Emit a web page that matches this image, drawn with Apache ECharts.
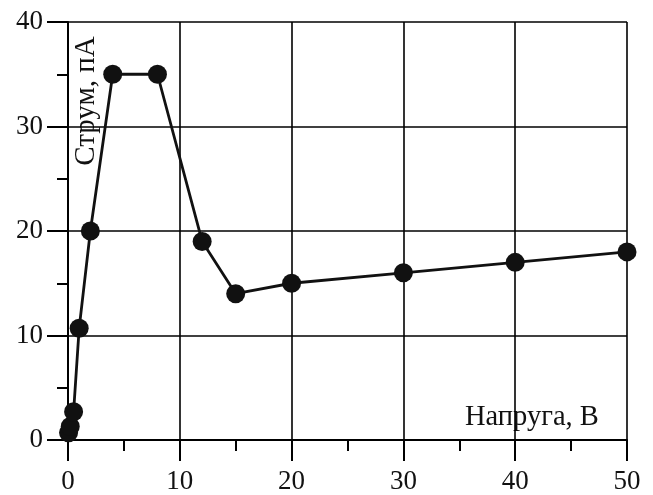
<!DOCTYPE html>
<html>
<head>
<meta charset="utf-8">
<script src="https://cdn.jsdelivr.net/npm/echarts@6/dist/echarts.min.js"></script>
<style>html,body{margin:0;padding:0;background:#fff}#c{width:653px;height:495px}</style>
</head>
<body>
<div id="c"></div>
<script>
const voltage = [0.05, 0.2, 0.5, 1, 2, 4, 8, 12, 15, 20, 30, 40, 50];
const current = [0.7, 1.3, 2.7, 10.7, 20, 35, 35, 19, 14, 15, 16, 17, 18];
const xTitle = 'Напруга, В';
const yTitle = 'Струм, пА';

const font = 'Liberation Serif';
const chart = echarts.init(document.getElementById('c'), null, {renderer: 'canvas'});
const axisCommon = {
  type: 'value',
  axisLine: {show: true, onZero: false, lineStyle: {color: '#000', width: 2}},
  axisTick: {show: true, inside: false, length: 21, lineStyle: {color: '#000', width: 2}},
  minorTick: {show: true, splitNumber: 2, length: 11, lineStyle: {color: '#000', width: 2}},
  splitLine: {show: true, lineStyle: {color: '#000', width: 1.6}},
  axisLabel: {color: '#111', fontFamily: font, fontSize: 27}
};
chart.setOption({
  animation: false,
  backgroundColor: '#fff',
  grid: {left: 68, right: 26, top: 22, bottom: 54, containLabel: false},
  xAxis: Object.assign({}, axisCommon, {
    min: 0, max: 50, interval: 10,
    axisLabel: Object.assign({}, axisCommon.axisLabel, {margin: 28})
  }),
  yAxis: Object.assign({}, axisCommon, {
    min: 0, max: 40, interval: 10,
    axisLabel: Object.assign({}, axisCommon.axisLabel, {margin: 25})
  }),
  graphic: [
    {type: 'text', x: 465, y: 418, style: {text: xTitle, fill: '#111', font: '28.5px "Liberation Serif"', textAlign: 'left', textVerticalAlign: 'middle'}},
    {type: 'text', x: 86, y: 101, rotation: Math.PI / 2, style: {text: yTitle, fill: '#111', font: '29px "Liberation Serif"', textAlign: 'center', textVerticalAlign: 'middle'}}
  ],
  series: [{
    type: 'line',
    data: voltage.map((v, i) => [v, current[i]]),
    symbol: 'circle',
    symbolSize: 19,
    clip: false,
    itemStyle: {color: '#111'},
    lineStyle: {color: '#111', width: 2.8}
  }]
});
</script>
</body>
</html>
